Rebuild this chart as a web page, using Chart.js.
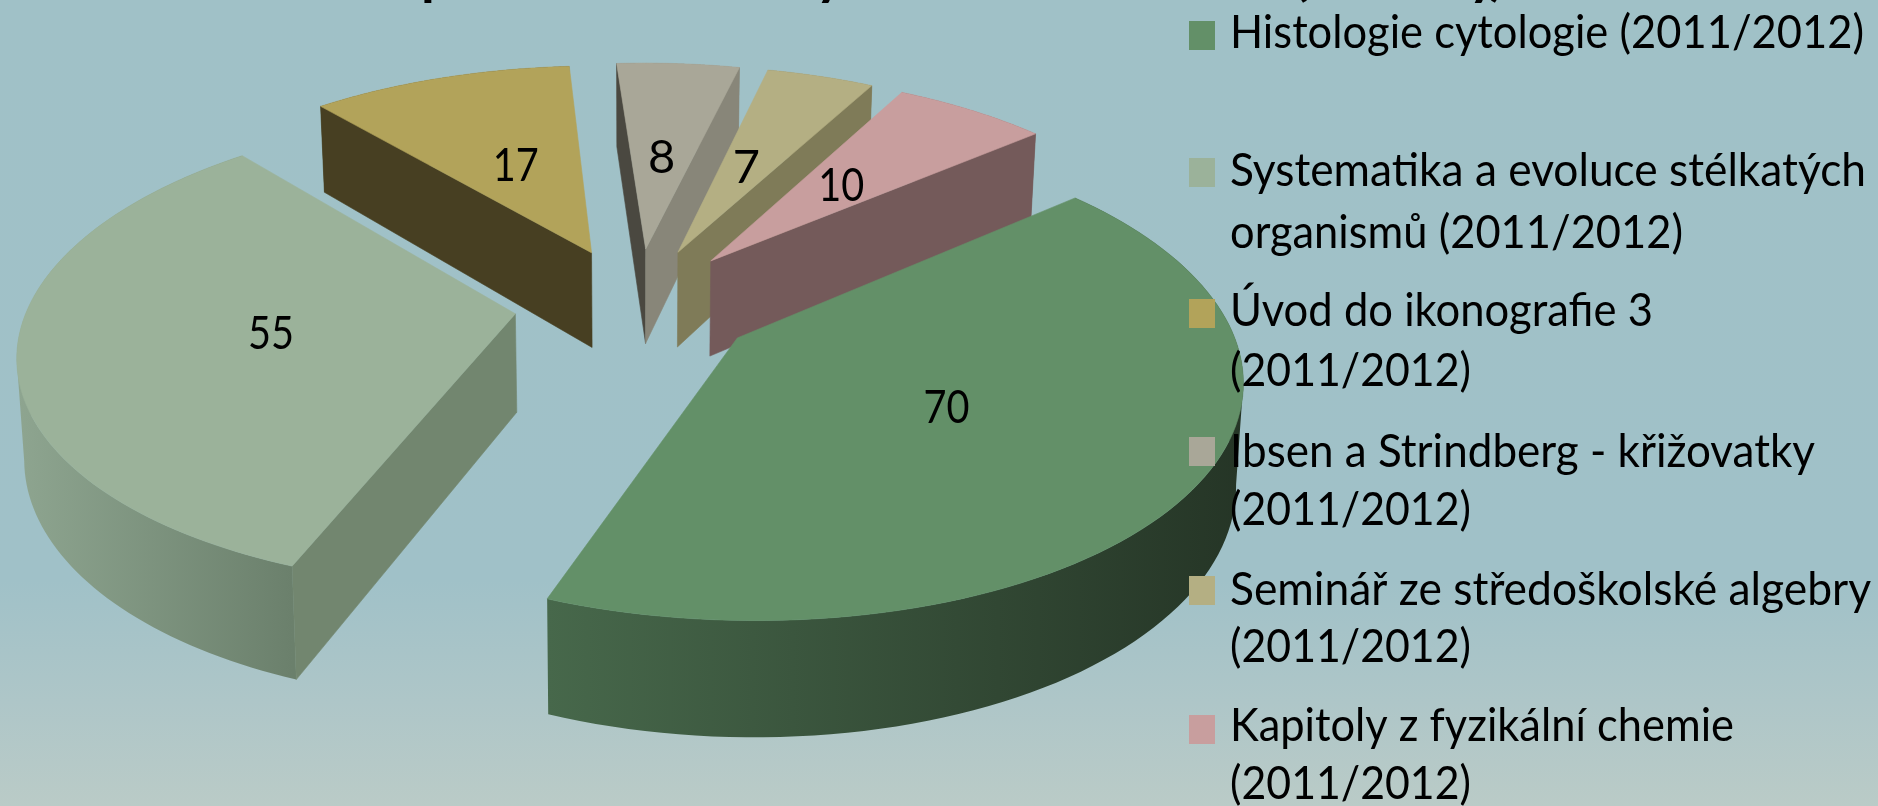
<!DOCTYPE html>
<html>
<head>
<meta charset="utf-8">
<style>
html,body{margin:0;padding:0;width:1878px;height:806px;overflow:hidden;
background:linear-gradient(180deg,#a0c1c7 0%,#a0c1c8 72%,#aec6c8 87%,#bacbc7 100%);}
#wrap{position:absolute;left:0;top:0;width:1878px;height:806px;}
</style>
</head>
<body>
<div id="wrap"><canvas id="c" width="1878" height="806"></canvas></div>
<script src="https://cdn.jsdelivr.net/npm/chart.js@4/dist/chart.umd.js"></script>
<script>
const categories = [
  "Histologie cytologie (2011/2012)",
  "Systematika a evoluce stélkatých organismů (2011/2012)",
  "Úvod do ikonografie 3 (2011/2012)",
  "Ibsen a Strindberg - křižovatky (2011/2012)",
  "Seminář ze středoškolské algebry (2011/2012)",
  "Kapitoly z fyzikální chemie (2011/2012)"
];
const values = [70, 55, 17, 8, 7, 10];
const topColors = ["#639068", "#9bb29a", "#b2a35a", "#a9a798", "#b4af83", "#c89e9e"];
const startWallColors = ["#2a3c2a", "#72866f", "#473f22", "#4a4840", "#7f7b58", "#745a5a"];
const endWallColors = ["#2a3c2a", "#72866f", "#473f22", "#888679", "#7f7b58", "#745a5a"];
const rimLeftColors = ["#47684b", "#8ea590", "#473f22", "#888679", "#7f7b58", "#745a5a"];
const rimRightColors = ["#253526", "#6b806c", "#473f22", "#888679", "#7f7b58", "#745a5a"];
const labelFractions = [0.46, 0.49, 0.5, 0.49, 0.48, 0.5];
const legendLines = [
  [["Histologie cytologie (2011/2012)", 634, 48]],
  [["Systematika a evoluce stélkatých", 636, 186], ["organismů (2011/2012)", 453, 248]],
  [["Úvod do ikonografie 3", 423, 326], ["(2011/2012)", 241, 386]],
  [["Ibsen a Strindberg - křižovatky", 585, 467], ["(2011/2012)", 241, 525]],
  [["Seminář ze středoškolské algebry", 641, 605], ["(2011/2012)", 241, 662]],
  [["Kapitoly z fyzikální chemie", 504, 741], ["(2011/2012)", 241, 799]]
];
const legendMarkerTops = [21, 158, 299, 437, 576, 715];
// only the descenders of the cropped title remain visible in the picture
const titleFragments = [["p", 437], ["y", 830], ["(", 1301], ["y", 1483], [")", 1497]];

const drawOrder = [2, 3, 4, 5, 1, 0];
const EXPLODE = 0.25, PERSP = 0.15, XSTRETCH = 2.125;

function depthAt(y){ return 86 + 0.06 * (y - 108); }

const pie3d = {
  id: "pie3d",
  beforeDatasetsDraw(chart) {
    const ctx = chart.ctx;
    const arcs = chart.getDatasetMeta(0).data;
    const labelPts = [];
    const faces = i => {
      const a = arcs[i];
      const Ry = a.outerRadius, Rx = Ry * XSTRETCH;
      const bis = (a.startAngle + a.endAngle) / 2;
      const U0 = EXPLODE * Math.cos(bis), V0 = EXPLODE * Math.sin(bis);
      const plane = (U, V) => {
        const s = 1 / (1 - PERSP * V);
        return [a.x + Rx * U * s, a.y + Ry * V * s];
      };
      const proj = t => plane(U0 + Math.cos(t), V0 + Math.sin(t));
      const down = p => {
        const h = depthAt(p[1]);
        return [p[0] + (a.x - p[0]) * 0.012, p[1] + h];
      };
      const N = 90, rim = [];
      for (let k = 0; k <= N; k++) rim.push(proj(a.startAngle + (a.endAngle - a.startAngle) * k / N));
      const apex = plane(U0, V0);
      const path = pts => {
        const pa = new Path2D();
        pts.forEach((p, j) => j ? pa.lineTo(p[0], p[1]) : pa.moveTo(p[0], p[1]));
        pa.closePath();
        return pa;
      };
      const poly = (pts, fill) => {
        const pa = path(pts);
        ctx.fillStyle = fill; ctx.fill(pa);
        ctx.strokeStyle = fill; ctx.lineWidth = 0.6; ctx.stroke(pa);
      };
      const topPts = [apex].concat(rim), topPath = path(topPts);
      // outer wall with a horizontal gradient: one path swept over the rim
      const xs = rim.map(p => p[0]);
      const g = ctx.createLinearGradient(Math.min(...xs), 0, Math.max(...xs), 0);
      g.addColorStop(0, rimLeftColors[i]); g.addColorStop(1, rimRightColors[i]);
      const sweep = new Path2D();
      for (let k = 0; k < N; k++) {
        const q = [rim[k], rim[k + 1], down(rim[k + 1]), down(rim[k])];
        if (q[1][0] < q[0][0]) q.reverse();
        sweep.moveTo(q[0][0], q[0][1]);
        for (let j = 1; j < 4; j++) sweep.lineTo(q[j][0], q[j][1]);
        sweep.closePath();
      }
      ctx.fillStyle = g; ctx.fill(sweep);
      // radial walls: only those facing the viewer
      const wall = (r, fill) => {
        const mx = (apex[0] + r[0]) / 2, my = (apex[1] + r[1]) / 2 + 3;
        if (!ctx.isPointInPath(topPath, mx, my)) poly([apex, r, down(r), down(apex)], fill);
      };
      wall(rim[0], startWallColors[i]);
      wall(rim[N], endWallColors[i]);
      // top face
      poly(topPts, topColors[i]);
      const m = proj(bis), f = labelFractions[i];
      labelPts[i] = [apex[0] + (m[0] - apex[0]) * f, apex[1] + (m[1] - apex[1]) * f];
    };
    ctx.save();
    drawOrder.forEach(faces);
    // value labels
    ctx.fillStyle = "#000";
    ctx.textAlign = "center"; ctx.textBaseline = "middle";
    ctx.font = "47px Lato";
    values.forEach((v, i) => ctx.fillText(String(v), labelPts[i][0], labelPts[i][1], 46));
    // legend
    ctx.textAlign = "left"; ctx.textBaseline = "alphabetic";
    ctx.font = "47px Lato";
    legendLines.forEach((lines, i) => {
      ctx.fillStyle = topColors[i];
      ctx.fillRect(1189, legendMarkerTops[i], 26, 29);
      ctx.fillStyle = "#000";
      lines.forEach(l => ctx.fillText(l[0], 1230, l[2], l[1]));
    });
    // cropped title
    ctx.textAlign = "center";
    ctx.font = "bold 56px Lato";
    titleFragments.forEach(f => ctx.fillText(f[0], f[1], -6));
    ctx.restore();
    return false;
  }
};

new Chart(document.getElementById("c"), {
  type: "pie",
  data: { labels: categories, datasets: [{ data: values, backgroundColor: topColors, borderWidth: 0 }] },
  options: {
    responsive: false,
    animation: false,
    rotation: 50,
    layout: { padding: { top: 75, bottom: 273, left: 396, right: 1002 } },
    plugins: { legend: { display: false }, title: { display: false }, tooltip: { enabled: false } }
  },
  plugins: [pie3d]
});
</script>
</body>
</html>
